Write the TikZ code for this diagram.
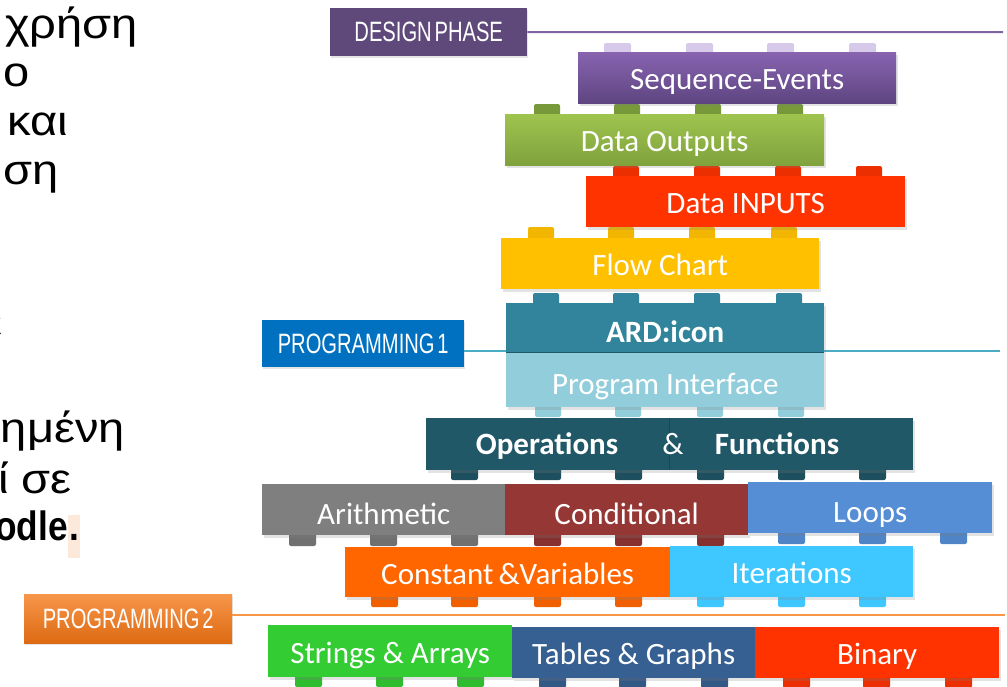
\documentclass[tikz,border=0pt]{standalone}
\usepackage{fontspec}
\setmainfont{Carlito}
\newfontfamily\greekfont[FakeStretch=1.12]{Liberation Sans}
\newfontfamily\greekbold[FakeStretch=0.86]{Liberation Sans Bold}
\newfontfamily\condfont[FakeStretch=0.72, WordSpace=0.5]{Liberation Sans}
\usetikzlibrary{positioning,shadows}
\definecolor{seqtop}{HTML}{8864B0}
\definecolor{seqbot}{HTML}{5E4581}
\definecolor{seqstud}{HTML}{D6C9EA}
\definecolor{designc}{HTML}{5F497A}
\definecolor{designln}{HTML}{8064A2}
\definecolor{outtop}{HTML}{9FC44E}
\definecolor{outbot}{HTML}{7FA23D}
\definecolor{outstud}{HTML}{77993A}
\definecolor{inred}{HTML}{FF3300}
\definecolor{flowc}{HTML}{FFC000}
\definecolor{ardc}{HTML}{31849B}
\definecolor{pintc}{HTML}{92CDDC}
\definecolor{opsc}{HTML}{215868}
\definecolor{prog1c}{HTML}{0070C0}
\definecolor{prog1ln}{HTML}{4BACC6}
\definecolor{arithc}{HTML}{7F7F7F}
\definecolor{condc}{HTML}{953735}
\definecolor{loopsc}{HTML}{558ED5}
\definecolor{constc}{HTML}{FF6600}
\definecolor{iterc}{HTML}{3FC8FF}
\definecolor{prog2top}{HTML}{F7964A}
\definecolor{prog2bot}{HTML}{DD6A12}
\definecolor{prog2ln}{HTML}{F79646}
\definecolor{strc}{HTML}{33CC33}
\definecolor{tabc}{HTML}{366092}
\definecolor{peach}{HTML}{FDE9D9}

\begin{document}
\begin{tikzpicture}[x=1pt, y=-1pt,
  every node/.style = {inner sep=0pt},
  lbl/.style = {text=white, text height=24pt, text depth=0pt,
    font=\fontsize{31}{31}\selectfont},
  low/.style = {text height=29pt},
  block/.style = {lbl, anchor=north west, minimum height=51pt,
    drop shadow={opacity=.22, shadow xshift=1.5pt, shadow yshift=-2.5pt}},
  phase/.style = {anchor=north west, minimum height=48pt, text=white,
    font=\condfont\fontsize{28}{28}\selectfont,
    drop shadow={opacity=.2, shadow xshift=1pt, shadow yshift=-2pt}},
  phaseline/.style = {line width=2pt},
  stud/.style = {fill=#1, rounded corners=2pt},
  greek/.style = {anchor=base west, font=\greekfont\fontsize{42}{42}\selectfont}
]
\useasboundingbox[fill=white] (0,0) rectangle (1007,686);

% text on the left, cut off by the page
\begin{scope}
\clip (0,0) rectangle (1007,686);
\node[greek] (g1) at (5,38) {χρήση};
\node[greek] (g2) at (3,86.5) {ο};
\node[greek] (g3) at (7,135) {και};
\node[greek] (g4) at (3,184) {ση};
\node[greek, anchor=base east] (g5) at (3,337) {ε};
\node[greek, anchor=base east] (g6) at (125,442) {οιημένη};
\node[greek, anchor=base east] (g7) at (72,493) {ί σε};
\node[greek, anchor=base east, font=\greekbold\fontsize{41}{41}\selectfont] (g8) at (68,540) {odle};
\node[anchor=base west, fill=peach, minimum width=12pt, minimum height=43pt,
  font=\greekbold\fontsize{41}{41}\selectfont] (g9) at (g8.base east) {.};
\end{scope}

% phase lines
\coordinate (designend) at (1003,32);
\coordinate (p1end) at (1000,351);
\coordinate (p2end) at (1005,615);
\node[phase, fill=designc, minimum width=197pt] (design) at (330,8) {DESIGN PHASE\hspace{18pt}};
\draw[phaseline, designln] (design.east) -- (designend);
\node[phase, fill=prog1c, minimum width=202pt, minimum height=47pt] (prog1) at (262,320) {PROGRAMMING 1};
\draw[phaseline, prog1ln] (prog1.east |- p1end) -- (p1end);
\node[phase, top color=prog2top, bottom color=prog2bot, minimum width=208pt, minimum height=49pt] (prog2) at (24,594) {PROGRAMMING 2};
\draw[phaseline, prog2ln] (prog2.east |- p2end) -- (p2end);

% studs
\foreach \x in {604,686,767,849} \fill[stud=seqstud] (\x,43) rectangle ++(27,11);
\foreach \x in {534,614,695,777} \fill[stud=outstud] (\x,104) rectangle ++(26,12);
\foreach \x in {613,694,775,856} \fill[stud=inred!92!black] (\x,166) rectangle ++(26,12);
\foreach \x in {528,608,689,771} \fill[stud=flowc!95!black] (\x,227) rectangle ++(26,13);
\foreach \x in {533,613,694,776} \fill[stud=ardc] (\x,293) rectangle ++(26,12);
\foreach \x in {535,615,697,778} \fill[stud=pintc] (\x,405) rectangle ++(26,12);
\foreach \x in {451,534,615,697,778,859} \fill[stud=opsc!90!black] (\x,468) rectangle ++(27,12);
\foreach \x in {289,370,451} \fill[stud=arithc!88!black] (\x,533) rectangle ++(27,13);
\foreach \x in {534,615,697} \fill[stud=condc!90!black] (\x,533) rectangle ++(27,13);
\foreach \x in {778,859,940} \fill[stud=loopsc!93!black] (\x,531) rectangle ++(27,13);
\foreach \x in {371,451,534,615} \fill[stud=constc!94!black] (\x,595) rectangle ++(27,12);
\foreach \x in {697,778,859} \fill[stud=iterc] (\x,595) rectangle ++(27,12);
\foreach \x in {295,376,457} \fill[stud=strc!92!black] (\x,675) rectangle ++(27,12);
\foreach \x in {539,619,701} \fill[stud=tabc!92!black] (\x,676) rectangle ++(27,12);
\foreach \x in {783,863,945} \fill[stud=inred!92!black] (\x,676) rectangle ++(27,12);

% design blocks
\node[block, top color=seqtop, bottom color=seqbot, minimum width=318pt] (seq) at (578,52) {Sequence-Events};
\node[block, top color=outtop, bottom color=outbot, minimum width=319pt] (dout) at (505,114) {Data Outputs};
\node[block, fill=inred, minimum width=319pt] (din) at (586,176) {Data INPUTS};
\node[block, fill=flowc, minimum width=318pt] (flow) at (501,238) {Flow Chart};

% programming 1
\node[block, low, fill=ardc, minimum width=318pt, minimum height=49pt] (ard) at (506,303) {\bfseries ARD:icon};
\node[block, low, fill=pintc, minimum width=318pt, minimum height=55pt] (pint) at (506,352) {Program Interface};
\draw[opsc, line width=1.5pt] (ard.south west) -- (ard.south east);
\node[block, fill=opsc, minimum width=487pt, minimum height=52pt] (opsfun) at (426,418) {};
\draw[opsc!80!black] (opsfun.north) ++(-1,0) -- ++(0,52);
\node[lbl, font=\bfseries\fontsize{31}{31}\selectfont] (ops) at (547,442) {Operations};
\node[lbl] (amp) at (673,442) {\&};
\node[lbl, font=\bfseries\fontsize{31}{31}\selectfont] (func) at (777,442) {Functions};
\node[block, low, fill=arithc, minimum width=243pt] (arith) at (262,484) {Arithmetic};
\node[block, low, fill=condc, minimum width=243pt] (cond) at (505,484) {Conditional};
\node[block, low, fill=loopsc, minimum width=244pt] (loops) at (748,482) {Loops};
\node[block, fill=constc, minimum width=325pt, minimum height=50pt] (const) at (345,547) {Constant\,\&Variables};
\node[block, fill=iterc, minimum width=243pt] (iter) at (670,546) {Iterations};

% programming 2
\node[block, fill=strc, minimum width=244pt, minimum height=52pt] (strarr) at (268,625) {Strings \& Arrays};
\node[block, fill=tabc, minimum width=243pt] (tabgr) at (512,627) {Tables \& Graphs};
\node[block, fill=inred, minimum width=244pt] (binary) at (755,627) {Binary};
\end{tikzpicture}
\end{document}
